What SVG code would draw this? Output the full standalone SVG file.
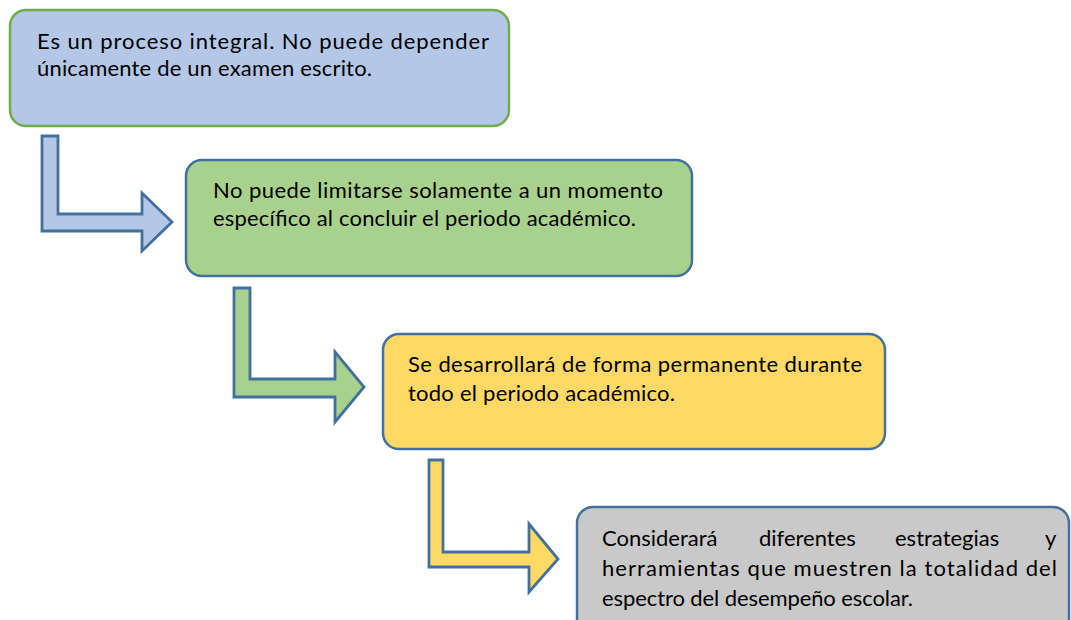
<svg xmlns="http://www.w3.org/2000/svg" width="1071" height="620" viewBox="0 0 1071 620">
<style>
.t{font-family:Lato,"Open Sans","Liberation Sans",sans-serif;font-size:22px;fill:#000}
.b{stroke:#41719C;stroke-width:2.5}
.a{stroke:#41719C;stroke-width:2.8;stroke-linejoin:miter}
</style>
<defs>
<clipPath id="c4"><rect x="577" y="507" width="494" height="104"/></clipPath>
</defs>
<rect width="1071" height="620" fill="#fff"/>
<g id="connectors">
<path class="a" fill="#B4C7E7" d="M42,136 L58,136 L58,214 L142,214 L142,193 L172,222 L142,251 L142,231 L42,231 Z"/>
<path class="a" fill="#A9D18E" d="M234,288 L250,288 L250,379 L335,379 L335,352 L364,387 L335,422 L335,397 L234,397 Z"/>
<path class="a" fill="#FFD966" d="M429,460 L443,460 L443,552 L529,552 L529,524 L558,559 L529,592 L529,567 L429,567 Z"/>
</g>
<g id="node1">
<rect x="10" y="10" width="499" height="116" rx="16" fill="#B4C7E7" stroke="#70AD47" stroke-width="2.5"/>
<text class="t" x="37" y="49" textLength="452" lengthAdjust="spacing">Es un proceso integral. No puede depender</text>
<text class="t" x="37" y="76" textLength="335" lengthAdjust="spacing">únicamente de un examen escrito.</text>
</g>
<g id="node2">
<rect class="b" x="186" y="160" width="506" height="116" rx="16" fill="#A9D18E"/>
<text class="t" x="213" y="198" textLength="450" lengthAdjust="spacing">No puede limitarse solamente a un momento</text>
<text class="t" x="213" y="226" textLength="423" lengthAdjust="spacing">específico al concluir el periodo académico.</text>
</g>
<g id="node3">
<rect class="b" x="383" y="334" width="502" height="115" rx="16" fill="#FFD966"/>
<text class="t" x="408" y="372" textLength="454" lengthAdjust="spacing">Se desarrollará de forma permanente durante</text>
<text class="t" x="408" y="401" textLength="267" lengthAdjust="spacing">todo el periodo académico.</text>
</g>
<g id="node4">
<rect class="b" x="577" y="507" width="492" height="140" rx="16" fill="#C9C9C9"/>
<g clip-path="url(#c4)">
<text class="t" y="546"><tspan x="602">Considerará</tspan><tspan x="759">diferentes</tspan><tspan x="895">estrategias</tspan><tspan x="1045">y</tspan></text>
<text class="t" x="602" y="576" textLength="455" lengthAdjust="spacing">herramientas que muestren la totalidad del</text>
<text class="t" x="602" y="606" textLength="311" lengthAdjust="spacing">espectro del desempeño escolar.</text>
</g>
</g>
</svg>
